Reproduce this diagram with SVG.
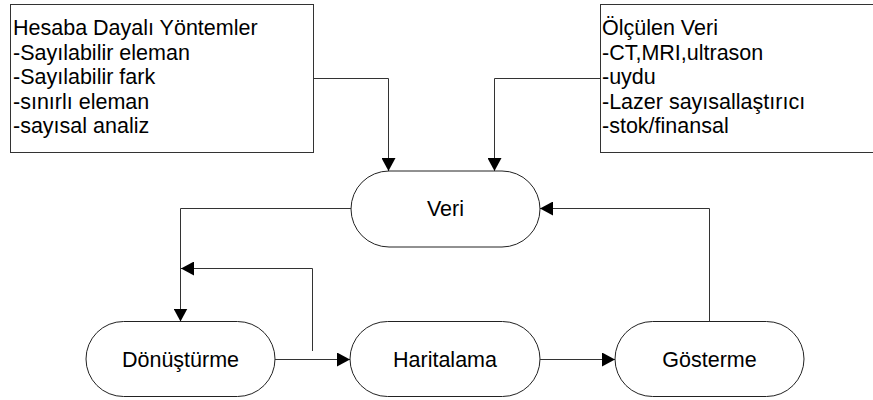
<svg xmlns="http://www.w3.org/2000/svg" width="873" height="400" viewBox="0 0 873 400">
  <defs>
    <marker id="arrow" markerUnits="userSpaceOnUse" markerWidth="14" markerHeight="14" refX="13" refY="7" orient="auto">
      <path d="M0,0 L13,7 L0,14 z" fill="#000"/>
    </marker>
    <style>
      .box { fill: #fff; stroke: #333; stroke-width: 1; }
      .term { fill: #fff; stroke: #222; stroke-width: 1; }
      .txt { font-family: "Liberation Sans", Arial, sans-serif; font-size: 21.5px; fill: #000; }
      .mid { text-anchor: middle; }
      .conn { fill: none; stroke: #333; stroke-width: 1; }
    </style>
  </defs>
  <rect width="873" height="400" fill="#fff"/>

  <!-- source boxes -->
  <g id="hesaba">
    <rect class="box" x="10.5" y="4.5" width="303" height="148"/>
    <text class="txt" x="13" y="35">Hesaba Dayalı Yöntemler</text>
    <text class="txt" x="13" y="59.5">-Sayılabilir eleman</text>
    <text class="txt" x="13" y="84">-Sayılabilir fark</text>
    <text class="txt" x="13" y="108.5">-sınırlı eleman</text>
    <text class="txt" x="13" y="133">-sayısal analiz</text>
  </g>
  <g id="olculen">
    <rect class="box" x="600.5" y="4.5" width="290" height="148"/>
    <text class="txt" x="602" y="35">Ölçülen Veri</text>
    <text class="txt" x="602" y="59.5">-CT,MRI,ultrason</text>
    <text class="txt" x="602" y="84">-uydu</text>
    <text class="txt" x="602" y="108.5">-Lazer sayısallaştırıcı</text>
    <text class="txt" x="602" y="133">-stok/finansal</text>
  </g>

  <!-- process terminals -->
  <g id="veri">
    <rect class="term" x="351" y="171" width="189" height="76" rx="38" ry="38"/>
    <text class="txt mid" x="445.5" y="216">Veri</text>
  </g>
  <g id="donusturme">
    <rect class="term" x="86" y="321.5" width="189" height="75" rx="37.5" ry="37.5"/>
    <text class="txt mid" x="180.5" y="366.5">Dönüştürme</text>
  </g>
  <g id="haritalama">
    <rect class="term" x="350" y="321.5" width="190" height="75" rx="37.5" ry="37.5"/>
    <text class="txt mid" x="445" y="366.5">Haritalama</text>
  </g>
  <g id="gosterme">
    <rect class="term" x="615" y="321.5" width="189" height="75" rx="37.5" ry="37.5"/>
    <text class="txt mid" x="709.5" y="366.5">Gösterme</text>
  </g>

  <!-- connectors -->
  <g id="connectors">
    <path class="conn" d="M313.5,78.5 H388.5 V171" marker-end="url(#arrow)"/>
    <path class="conn" d="M600.5,78.5 H494.5 V171" marker-end="url(#arrow)"/>
    <path class="conn" d="M351,208.5 H180.5 V321.5" marker-end="url(#arrow)"/>
    <path class="conn" d="M312.5,351 V268.5 H181" marker-end="url(#arrow)"/>
    <path class="conn" d="M275,359.5 H350" marker-end="url(#arrow)"/>
    <path class="conn" d="M540,359.5 H615" marker-end="url(#arrow)"/>
    <path class="conn" d="M709.5,321.5 V208.5 H540" marker-end="url(#arrow)"/>
  </g>
</svg>
